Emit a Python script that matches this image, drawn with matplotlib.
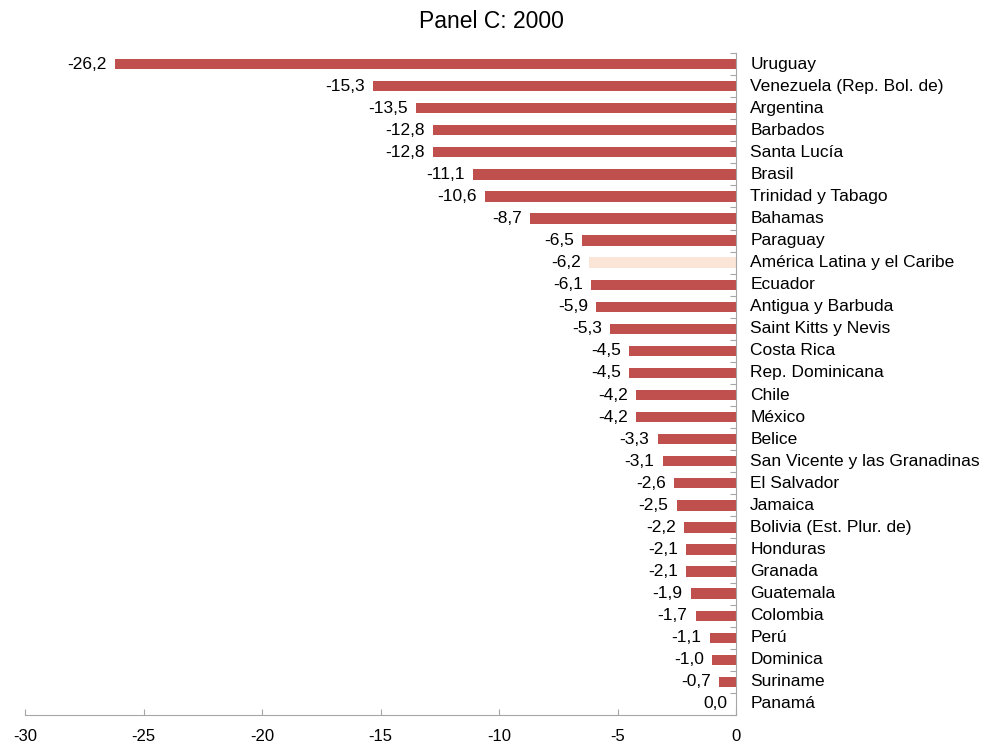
import matplotlib.pyplot as plt
import numpy as np

plt.rcParams['font.family'] = ['Liberation Sans', 'DejaVu Sans']
plt.rcParams['axes.unicode_minus'] = False

countries = ['Uruguay', 'Venezuela (Rep. Bol. de)', 'Argentina', 'Barbados', 'Santa Lucía',
             'Brasil', 'Trinidad y Tabago', 'Bahamas', 'Paraguay', 'América Latina y el Caribe',
             'Ecuador', 'Antigua y Barbuda', 'Saint Kitts y Nevis', 'Costa Rica',
             'Rep. Dominicana', 'Chile', 'México', 'Belice', 'San Vicente y las Granadinas',
             'El Salvador', 'Jamaica', 'Bolivia (Est. Plur. de)', 'Honduras', 'Granada',
             'Guatemala', 'Colombia', 'Perú', 'Dominica', 'Suriname', 'Panamá']
values = [-26.2, -15.3, -13.5, -12.8, -12.8, -11.1, -10.6, -8.7, -6.5, -6.2,
          -6.1, -5.9, -5.3, -4.5, -4.5, -4.2, -4.2, -3.3, -3.1, -2.6,
          -2.5, -2.2, -2.1, -2.1, -1.9, -1.7, -1.1, -1.0, -0.7, 0.0]
highlight = 'América Latina y el Caribe'

fig = plt.figure(figsize=(9.83, 7.45), dpi=100)
ax = fig.add_axes([25 / 983, 1 - 715 / 745, (736 - 25) / 983, (715 - 53) / 745])

y = np.arange(len(countries))
colors = ['#FBE5D6' if c == highlight else '#C0504D' for c in countries]
ax.barh(y, values, height=0.47, color=colors)

for yi, v, c in zip(y, values, countries):
    ax.text(v - 0.35, yi, f'{v:.1f}'.replace('.', ','), ha='right', va='center', fontsize=12.5)
    ax.text(0.6, yi, c, ha='left', va='center', fontsize=12.5)

ax.set_xlim(-30, 0)
ax.set_ylim(len(countries) - 0.5, -0.5)
ax.set_xticks(range(-30, 1, 5))
ax.tick_params(axis='x', labelsize=12, length=4, color='#A6A6A6', direction='in', pad=10)
ax.set_yticks(np.arange(-0.5, len(countries), 1))
ax.set_yticklabels([])

for s in ['top', 'left']:
    ax.spines[s].set_visible(False)
ax.spines['bottom'].set_color('#A6A6A6')
ax.spines['right'].set_color('#A6A6A6')
ax.yaxis.tick_right()
ax.tick_params(axis='y', length=4, color='#A6A6A6', direction='in')

fig.suptitle('Panel C: 2000', y=1 - 22 / 745, va='center', fontsize=16.5)

fig.savefig('out.png', dpi=100)
